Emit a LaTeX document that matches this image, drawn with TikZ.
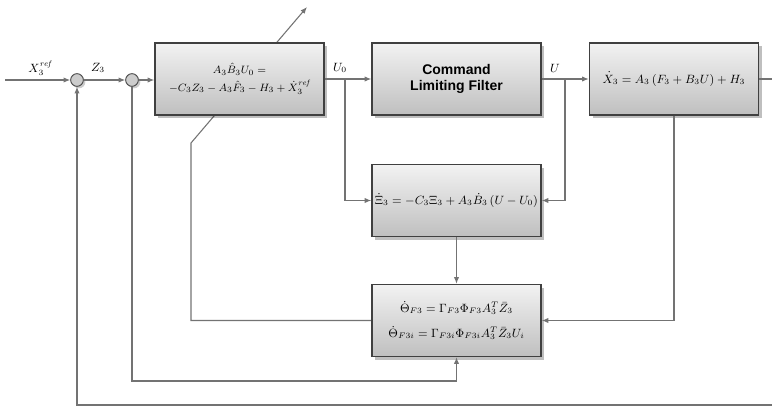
\documentclass[tikz,border=0pt]{standalone}
\usepackage{fontspec}
\usepackage{amsmath}
\usetikzlibrary{shadows,arrows.meta}
\newfontfamily\labfont{Liberation Sans}
\pgfdeclarelayer{background}
\pgfsetlayers{background,main}
\begin{document}
\begin{tikzpicture}[x=0.75pt,y=-0.75pt,
  blk/.style={draw=black!75, line width=1.1pt, top color=gray!10, bottom color=gray!50,
    minimum width=126.75pt, minimum height=54pt, inner sep=0pt, align=center,
    font=\small,
    drop shadow={shadow xshift=2.5pt,shadow yshift=-2.5pt,opacity=0.25,fill=black}},
  sumc/.style={circle, draw=black!70, fill=gray!40, line width=0.7pt, minimum size=9.5pt, inner sep=0pt,
    drop shadow={shadow xshift=1.5pt,shadow yshift=-1.5pt,opacity=0.2,fill=black}},
  wire/.style={draw=black!55, line width=0.8pt},
  arr/.style={wire, -{Latex[length=5pt,width=4pt]}},
  lbl/.style={font=\small, inner sep=1pt}
]
\useasboundingbox (0,0) rectangle (772,406);

% summing junctions
\node[sumc] (s1) at (77,80) {};
\node[sumc] (s2) at (132,80) {};

% blocks
\node[blk, font=\fontsize{8.4}{10}\selectfont] (b1) at (239.5,79) {$A_3\hat{B}_3U_0=$\\[3pt]$-C_3Z_3-A_3\hat{F}_3-H_3+\dot{X}_3^{\mathit{ref}}$};
\node[blk, font=\labfont\bfseries\fontsize{10.5}{12.5}\selectfont] (b2) at (456.5,79) {Command\\Limiting Filter};
\node[blk] (b4) at (674,79) {$\dot{X}_3=A_3\left(F_3+B_3U\right)+H_3$};
\node[blk] (b3) at (456.5,200.5) {$\dot{\Xi}_3=-C_3\Xi_3+A_3\dot{B}_3\left(U-U_0\right)$};
\node[blk] (b5) at (456.5,320.5) {$\dot{\Theta}_{F3}=\Gamma_{F3}\Phi_{F3}A_3^T\bar{Z}_3$\\[8pt]$\dot{\Theta}_{F3i}=\Gamma_{F3i}\Phi_{F3i}A_3^T\bar{Z}_3U_i$};

% coordinates
\coordinate (in) at (5,80);
\coordinate (out) at (772,79);
\coordinate (j1) at (345,79);
\coordinate (j2) at (565,79);
\coordinate (d1) at (191,143);
\coordinate (d2) at (307,7);
\coordinate (c2) at (132,381);
\coordinate (r) at (772,405);

% connectors
\draw[arr] (in) -- (s1);
\draw[arr] (s1) -- (s2);
\draw[arr] (s2) -- (b1.west |- s2);
\draw[arr] (b1) -- (b2);
\draw[arr] (b2) -- (b4);
\draw[wire] (b4) -- (out);
\draw[arr] (j1) |- (b3.west);
\draw[arr] (j2) |- (b3.east);
\draw[arr] (b3) -- (b5);
\draw[arr] (b4.south) |- (b5.east);
\draw[arr] (s2) -- (c2) -| (b5.south);
\draw[arr] (r) -| (s1);
\begin{pgfonlayer}{background}
\draw[arr] (b5.west) -| (d1) -- (d2);
\end{pgfonlayer}

% labels
\node[lbl] (lx) at (40,68) {$X_3^{\mathit{ref}}$};
\node[lbl] (lz) at (98,68) {$Z_3$};
\node[lbl] (lu0) at (340,68) {$U_0$};
\node[lbl] (lu) at (555,68) {$U$};
\end{tikzpicture}
\end{document}
